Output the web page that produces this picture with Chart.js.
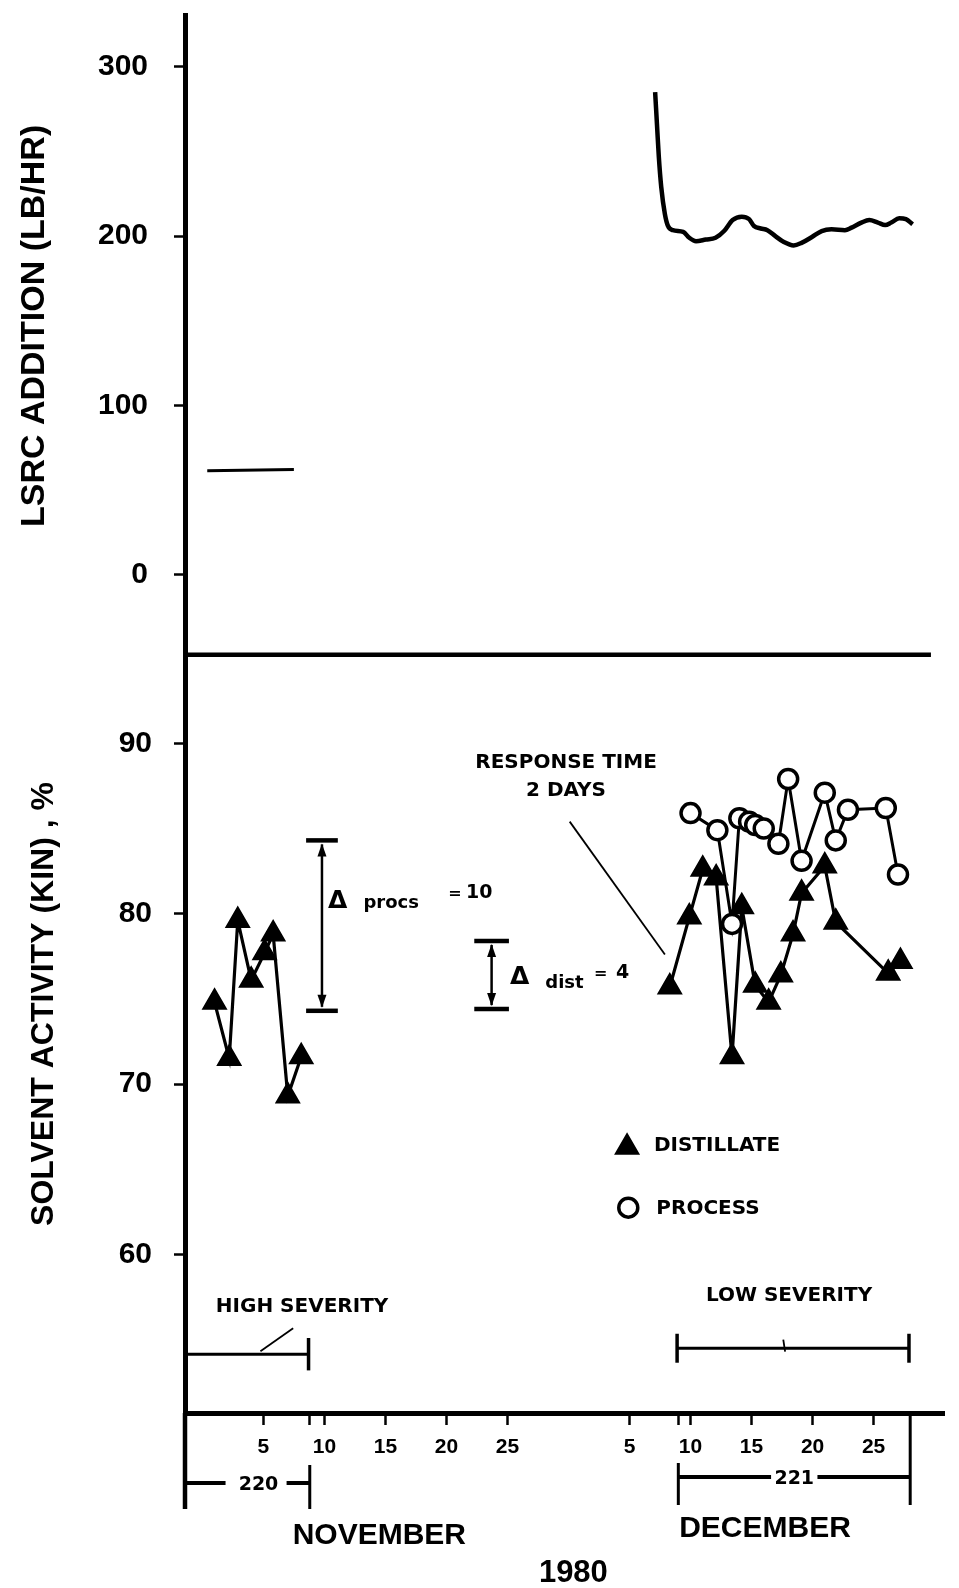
<!DOCTYPE html>
<html>
<head>
<meta charset="utf-8">
<title>LSRC addition and solvent activity, Nov-Dec 1980</title>
<script src="https://cdn.jsdelivr.net/npm/chart.js@4.4.1/dist/chart.umd.min.js"></script>
<style>
  html, body { margin: 0; padding: 0; background: #fff; }
  #wrap { width: 959px; height: 1588px; }
</style>
</head>
<body>
<div id="wrap"><canvas id="kinChart" width="959" height="1588"></canvas></div>
<script>
// day numbering: 1 = Nov 1, 31 = Dec 1
const dayTicks = [5, 10, 15, 20, 25, 35, 40, 45, 50, 55];
const runEndTicks = [8.8, 39];
const lsrcTicks = [0, 100, 200, 300];
const activityTicks = [60, 70, 80, 90];

// LSRC addition, lb/hr
const lsrc220Days = [0.4, 7.5];
const lsrc220 = [61.5, 62.2];
const lsrc221Days = [37.1, 37.25, 37.4, 37.6, 37.9, 38.15, 38.55, 39.4, 39.9, 40.45,
  41.25, 42.05, 42.75, 43.45, 44.2, 44.8, 45.2, 45.75, 46.3, 46.95,
  47.65, 48.45, 49.1, 49.95, 50.75, 51.55, 52.65, 53.2, 54.0, 54.65,
  55.35, 55.95, 56.45, 57.1, 57.65, 58.2];
const lsrc221 = [285, 266, 247, 229, 213, 206, 203.5, 202.5, 199, 197,
  198, 199, 203, 209.5, 211.5, 210, 206, 204.5, 203.5, 200,
  196.5, 194.5, 196, 199.5, 203, 204, 203.5, 205, 208, 209.5,
  208, 206.5, 208, 210.5, 210, 207];

// solvent activity (KIN), %
const distNovDays = [1.0, 2.2, 2.9, 4.0, 5.1, 5.8, 7.0, 8.1];
const distNov = [74.8, 71.5, 79.6, 76.1, 77.7, 78.8, 69.3, 71.6];
const distDecDays = [38.3, 39.9, 41.0, 42.1, 43.4, 44.2, 45.3, 46.4, 47.4, 48.4, 49.1, 51.0, 51.9, 56.2, 57.2];
const distDec = [75.7, 79.8, 82.6, 82.1, 71.6, 80.4, 75.8, 74.8, 76.4, 78.8, 81.2, 82.8, 79.5, 76.5, 77.2];
const procDecDays = [40.0, 42.2, 43.4, 44.0, 44.8, 45.3, 46.0, 47.2, 48.0, 49.1, 51.0, 51.9, 52.9, 56.0, 57.0];
const procDec = [85.9, 84.9, 79.4, 85.6, 85.4, 85.2, 85.0, 84.1, 87.9, 83.1, 87.1, 84.3, 86.1, 86.2, 82.3];

// spread brackets: [day, low, high]
const procSpread = [9.8, 74.3, 84.3];
const distSpread = [23.7, 74.4, 78.4];
// severity bars: [from day, to day, level]
const highSeverity = [null, 8.7, 54.15];
const lowSeverity = [38.9, 57.9, 54.5];
// run numbers under the date axis: [label, from day, to day]
const run220 = ['220', null, 8.8];
const run221 = ['221', 39.0, 58.0];

const pts = (xs, ys) => xs.map((x, i) => ({x, y: ys[i]}));

const BOLD_DV = size => `bold ${size}px "DejaVu Sans"`;
const BOLD_LS = size => `bold ${size}px "Liberation Sans"`;

const overlay = {
  id: 'overlay',
  afterDatasetsDraw(chart) {
    const {ctx, chartArea: area, scales} = chart;
    const x = v => scales.x.getPixelForValue(v);
    const yA = v => scales.yLsrc.getPixelForValue(v);
    const yB = v => scales.yAct.getPixelForValue(v);

    const line = (x1, y1, x2, y2, w) => {
      ctx.lineWidth = w;
      ctx.beginPath();
      ctx.moveTo(x1, y1);
      ctx.lineTo(x2, y2);
      ctx.stroke();
    };
    const text = (str, px, py, font, align = 'left') => {
      ctx.font = font;
      ctx.textAlign = align;
      ctx.textBaseline = 'alphabetic';
      ctx.fillText(str, px, py);
    };
    const arrow = (px, tipY, dir) => {
      ctx.beginPath();
      ctx.moveTo(px, tipY);
      ctx.lineTo(px - 4.5, tipY - dir * 13);
      ctx.lineTo(px + 4.5, tipY - dir * 13);
      ctx.closePath();
      ctx.fill();
    };
    const spread = ([d, lo, hi], half) => {
      const cx = x(d), top = yB(hi), bot = yB(lo);
      const hw = x(d + half) - cx;
      line(cx - hw, top, cx + hw, top, 4.5);
      line(cx - hw, bot, cx + hw, bot, 4.5);
      line(cx, top + 4, cx, bot - 4, 2.5);
      arrow(cx, top + 3, -1);
      arrow(cx, bot - 3, 1);
    };

    ctx.save();
    ctx.strokeStyle = '#000';
    ctx.fillStyle = '#000';

    // base line of the upper panel
    const mid = scales.yLsrc.bottom;
    line(area.left, mid, x(59.7), mid, 4.5);

    // axis titles
    ctx.save();
    ctx.translate(area.left - 141, yA(147));
    ctx.rotate(-Math.PI / 2);
    text('LSRC ADDITION (LB/HR)', 0, 0, BOLD_LS(34), 'center');
    ctx.restore();
    ctx.save();
    ctx.translate(area.left - 132, yB(74.7));
    ctx.rotate(-Math.PI / 2);
    text('SOLVENT ACTIVITY (KIN) , %', 0, 0, BOLD_LS(32), 'center');
    ctx.restore();

    // spreads
    spread(procSpread, 1.3);
    text('\u0394', x(10.3), yB(80.35), BOLD_DV(25));
    text('procs', x(13.2), yB(80.35), BOLD_DV(18));
    text('=', x(20.15), yB(80.9), BOLD_DV(16));
    text('10', x(21.6), yB(80.9), BOLD_DV(19));
    spread(distSpread, 1.42);
    text('\u0394', x(25.2), yB(75.85), BOLD_DV(25));
    text('dist', x(28.1), yB(75.65), BOLD_DV(18));
    text('=', x(32.1), yB(76.25), BOLD_DV(16));
    text('4', x(33.9), yB(76.25), BOLD_DV(19));

    // response time note
    text('RESPONSE TIME', x(29.8), yB(88.54), BOLD_DV(20), 'center');
    text('2 DAYS', x(29.8), yB(86.9), BOLD_DV(20), 'center');
    line(x(30.1), yB(85.4), x(37.9), yB(77.6), 1.8);

    // key
    ctx.lineWidth = 2;
    Chart.helpers.drawPoint(ctx, {pointStyle: 'triangle', radius: 13, borderWidth: 2, rotation: 0}, x(34.8), yB(66.3));
    text('DISTILLATE', x(37.0), yB(66.1), BOLD_DV(20));
    ctx.fillStyle = '#fff';
    ctx.lineWidth = 3.5;
    Chart.helpers.drawPoint(ctx, {pointStyle: 'circle', radius: 9.5, borderWidth: 3.5, rotation: 0}, x(34.9), yB(62.75));
    ctx.fillStyle = '#000';
    text('PROCESS', x(37.2), yB(62.4), BOLD_DV(20));

    // severity periods
    const [hFrom, hTo, hLevel] = highSeverity;
    text('HIGH SEVERITY', x(1.1), yB(56.65), BOLD_DV(20));
    line(hFrom === null ? area.left : x(hFrom), yB(hLevel), x(hTo), yB(hLevel), 3);
    line(x(hTo), yB(hLevel + 0.95), x(hTo), yB(hLevel - 0.95), 3.5);
    line(x(4.76), yB(54.33), x(7.44), yB(55.67), 1.8);

    const [lFrom, lTo, lLevel] = lowSeverity;
    text('LOW SEVERITY', x(41.26), yB(57.25), BOLD_DV(20));
    line(x(lFrom), yB(lLevel), x(lTo), yB(lLevel), 3);
    line(x(lFrom), yB(lLevel + 0.85), x(lFrom), yB(lLevel - 0.85), 3.5);
    line(x(lTo), yB(lLevel + 0.85), x(lTo), yB(lLevel - 0.85), 3.5);
    line(x(47.6), yB(55.0), x(47.75), yB(54.3), 1.8);

    // run numbers below the date axis
    const base = scales.x.top;
    const r0L = run220[1] === null ? area.left : x(run220[1]);
    const r0R = x(run220[2]);
    line(r0L, base, r0L, base + 96, 4.5);
    line(r0R, base + 52, r0R, base + 96, 3);
    line(r0L, base + 70, x(1.9), base + 70, 4);
    line(x(6.9), base + 70, r0R, base + 70, 4);
    text(run220[0], x(4.6), base + 77, BOLD_DV(19), 'center');

    const r1L = x(run221[1]), r1R = x(run221[2]);
    line(r1L, base + 50, r1L, base + 92, 3);
    line(r1R, base, r1R, base + 92, 3);
    line(r1L, base + 64, x(46.6), base + 64, 4);
    line(x(50.4), base + 64, r1R, base + 64, 4);
    text(run221[0], x(48.5), base + 71, BOLD_DV(19), 'center');

    // months and year
    text('NOVEMBER', x(14.5), base + 131, BOLD_LS(30), 'center');
    text('DECEMBER', x(46.1), base + 124, BOLD_LS(30), 'center');
    text('1980', x(30.4), base + 169, BOLD_LS(31), 'center');

    ctx.restore();
  }
};

const tickFont = {family: 'Liberation Sans', weight: 'bold', size: 30};

new Chart(document.getElementById('kinChart'), {
  type: 'line',
  data: {
    datasets: [
      {
        label: 'PROCESS',
        data: pts(procDecDays, procDec),
        yAxisID: 'yAct',
        borderColor: '#000',
        borderWidth: 3,
        pointStyle: 'circle',
        pointRadius: 9.5,
        pointBackgroundColor: '#fff',
        pointBorderColor: '#000',
        pointBorderWidth: 3.5
      },
      {
        label: 'DISTILLATE',
        data: pts(distDecDays, distDec),
        yAxisID: 'yAct',
        borderColor: '#000',
        borderWidth: 3.2,
        pointStyle: 'triangle',
        pointRadius: 13,
        pointBackgroundColor: '#000',
        pointBorderColor: '#000',
        pointBorderWidth: 2
      },
      {
        label: 'DISTILLATE (run 220)',
        data: pts(distNovDays, distNov),
        yAxisID: 'yAct',
        borderColor: '#000',
        borderWidth: 3.2,
        pointStyle: 'triangle',
        pointRadius: 13,
        pointBackgroundColor: '#000',
        pointBorderColor: '#000',
        pointBorderWidth: 2
      },
      {
        label: 'LSRC 220',
        data: pts(lsrc220Days, lsrc220),
        yAxisID: 'yLsrc',
        borderColor: '#000',
        borderWidth: 3,
        pointRadius: 0
      },
      {
        label: 'LSRC 221',
        data: pts(lsrc221Days, lsrc221),
        yAxisID: 'yLsrc',
        borderColor: '#000',
        borderWidth: 4.5,
        pointRadius: 0,
        cubicInterpolationMode: 'monotone'
      }
    ]
  },
  options: {
    responsive: false,
    animation: false,
    events: [],
    devicePixelRatio: 1,
    layout: { padding: { top: 12, right: 9, bottom: 0, left: 0 } },
    plugins: {
      legend: { display: false },
      tooltip: { enabled: false }
    },
    scales: {
      x: {
        type: 'linear',
        position: 'bottom',
        min: -1.423,
        max: 60.77,
        afterBuildTicks: s => {
          s.ticks = dayTicks.concat(runEndTicks).sort((a, b) => a - b).map(v => ({value: v}));
        },
        afterFit: s => { s.height = 175; s.paddingLeft = 0; s.paddingRight = 0; },
        border: { display: true, color: '#000', width: 5 },
        grid: { drawOnChartArea: false, color: '#000', tickLength: 12, tickWidth: 2.5 },
        ticks: {
          color: '#000',
          padding: 10,
          autoSkip: false,
          maxRotation: 0,
          font: {family: 'Liberation Sans', weight: 'bold', size: 21},
          callback: v => runEndTicks.includes(v) ? '' : String(v > 30 ? v - 30 : v)
        }
      },
      yLsrc: {
        type: 'linear',
        position: 'left',
        stack: 'panels',
        stackWeight: 641,
        weight: 1,
        min: -47,
        max: 330.5,
        afterBuildTicks: s => { s.ticks = lsrcTicks.map(v => ({value: v})); },
        afterFit: s => { s.width = 185; s.paddingTop = 0; s.paddingBottom = 0; },
        border: { display: true, color: '#000', width: 5 },
        grid: { drawOnChartArea: false, color: '#000', tickLength: 11, tickWidth: 2.5 },
        ticks: { color: '#000', padding: 26, font: tickFont }
      },
      yAct: {
        type: 'linear',
        position: 'left',
        stack: 'panels',
        stackWeight: 760,
        weight: 0,
        min: 50.7,
        max: 95.2,
        afterBuildTicks: s => { s.ticks = activityTicks.map(v => ({value: v})); },
        afterFit: s => { s.width = 185; s.paddingTop = 0; s.paddingBottom = 0; },
        border: { display: true, color: '#000', width: 5 },
        grid: { drawOnChartArea: false, color: '#000', tickLength: 11, tickWidth: 2.5 },
        ticks: { color: '#000', padding: 22, font: tickFont }
      }
    }
  },
  plugins: [overlay]
});
</script>
</body>
</html>
